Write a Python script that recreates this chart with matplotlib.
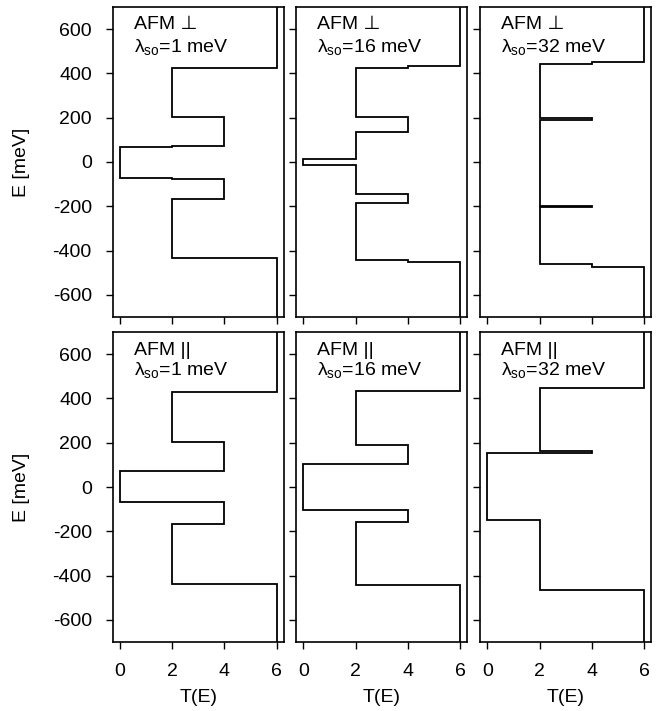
import matplotlib
matplotlib.use("Agg")
import matplotlib.pyplot as plt

plt.rcParams['font.family'] = ['Liberation Sans', 'DejaVu Sans']
plt.rcParams['mathtext.fontset'] = 'custom'
plt.rcParams['mathtext.rm'] = 'Liberation Sans'
plt.rcParams['mathtext.it'] = 'Liberation Sans:italic'
plt.rcParams['font.size'] = 14
plt.rcParams['axes.unicode_minus'] = False

# step edges in meV (bottom to top) and transmission T(E) between them
perp_1_E = [-700, -435, -168, -78, -71, 68, 74, 202, 425, 700]
perp_1_T = [6, 2, 4, 2, 0, 2, 4, 2, 6]

perp_16_E = [-700, -451, -441, -185, -146, -12, 12, 134, 202, 426, 435, 700]
perp_16_T = [6, 4, 2, 4, 2, 0, 2, 4, 2, 4, 6]

perp_32_E = [-700, -473, -460, -202, -198, 190, 198, 441, 451, 700]
perp_32_T = [6, 4, 2, 4, 2, 4, 2, 4, 6]

par_1_E = [-700, -436, -168, -69, 71, 203, 429, 700]
par_1_T = [6, 2, 4, 0, 4, 2, 6]

par_16_E = [-700, -444, -160, -105, 105, 188, 433, 700]
par_16_T = [6, 2, 4, 0, 4, 2, 6]

par_32_E = [-700, -466, -149, 152, 163, 447, 700]
par_32_T = [6, 2, 0, 4, 2, 6]

row_labels = ["AFM \u22a5", "AFM ||"]
lambdas = [1, 16, 32]

panels = [[(perp_1_E, perp_1_T), (perp_16_E, perp_16_T), (perp_32_E, perp_32_T)],
          [(par_1_E, par_1_T), (par_16_E, par_16_T), (par_32_E, par_32_T)]]

fig = plt.figure(figsize=(6.61, 7.11), dpi=100)
W, H = 661.0, 711.0
lefts = [112.7, 296.0, 480.0]
tops = [7.0, 332.0]
aw, ah = 171.3, 310.0

for r in range(2):
    for c in range(3):
        ax = fig.add_axes([lefts[c] / W, 1 - (tops[r] + ah) / H, aw / W, ah / H])
        E, T = panels[r][c]
        ax.stairs(T, E, orientation='horizontal', baseline=None, color='black', lw=1.3)
        ax.set_xlim(-0.28, 6.28)
        ax.set_ylim(-700, 700)
        ax.set_xticks([0, 2, 4, 6])
        ax.set_yticks([-600, -400, -200, 0, 200, 400, 600])
        ax.tick_params(direction='out', length=5, width=1.0, pad=10)
        for s in ax.spines.values():
            s.set_linewidth(1.2)
        if c != 0:
            ax.set_yticklabels([])
        else:
            ax.set_ylabel("E [meV]")
            ax.yaxis.set_label_coords(-0.48, 0.5)
        if r == 0:
            ax.set_xticklabels([])
        else:
            ax.set_xlabel("T(E)")
            ax.xaxis.set_label_coords(0.5, -0.152)
        y1 = 0.928 if r == 0 else 0.927
        y2 = 0.856 if r == 0 else 0.860
        ax.text(0.124, y1, row_labels[r], transform=ax.transAxes, va='baseline', ha='left')
        ax.text(0.124, y2, "\u03bb$_{\\mathrm{so}}$=%d meV" % lambdas[c],
                transform=ax.transAxes, va='baseline', ha='left')

fig.savefig("out.png", dpi=100)
